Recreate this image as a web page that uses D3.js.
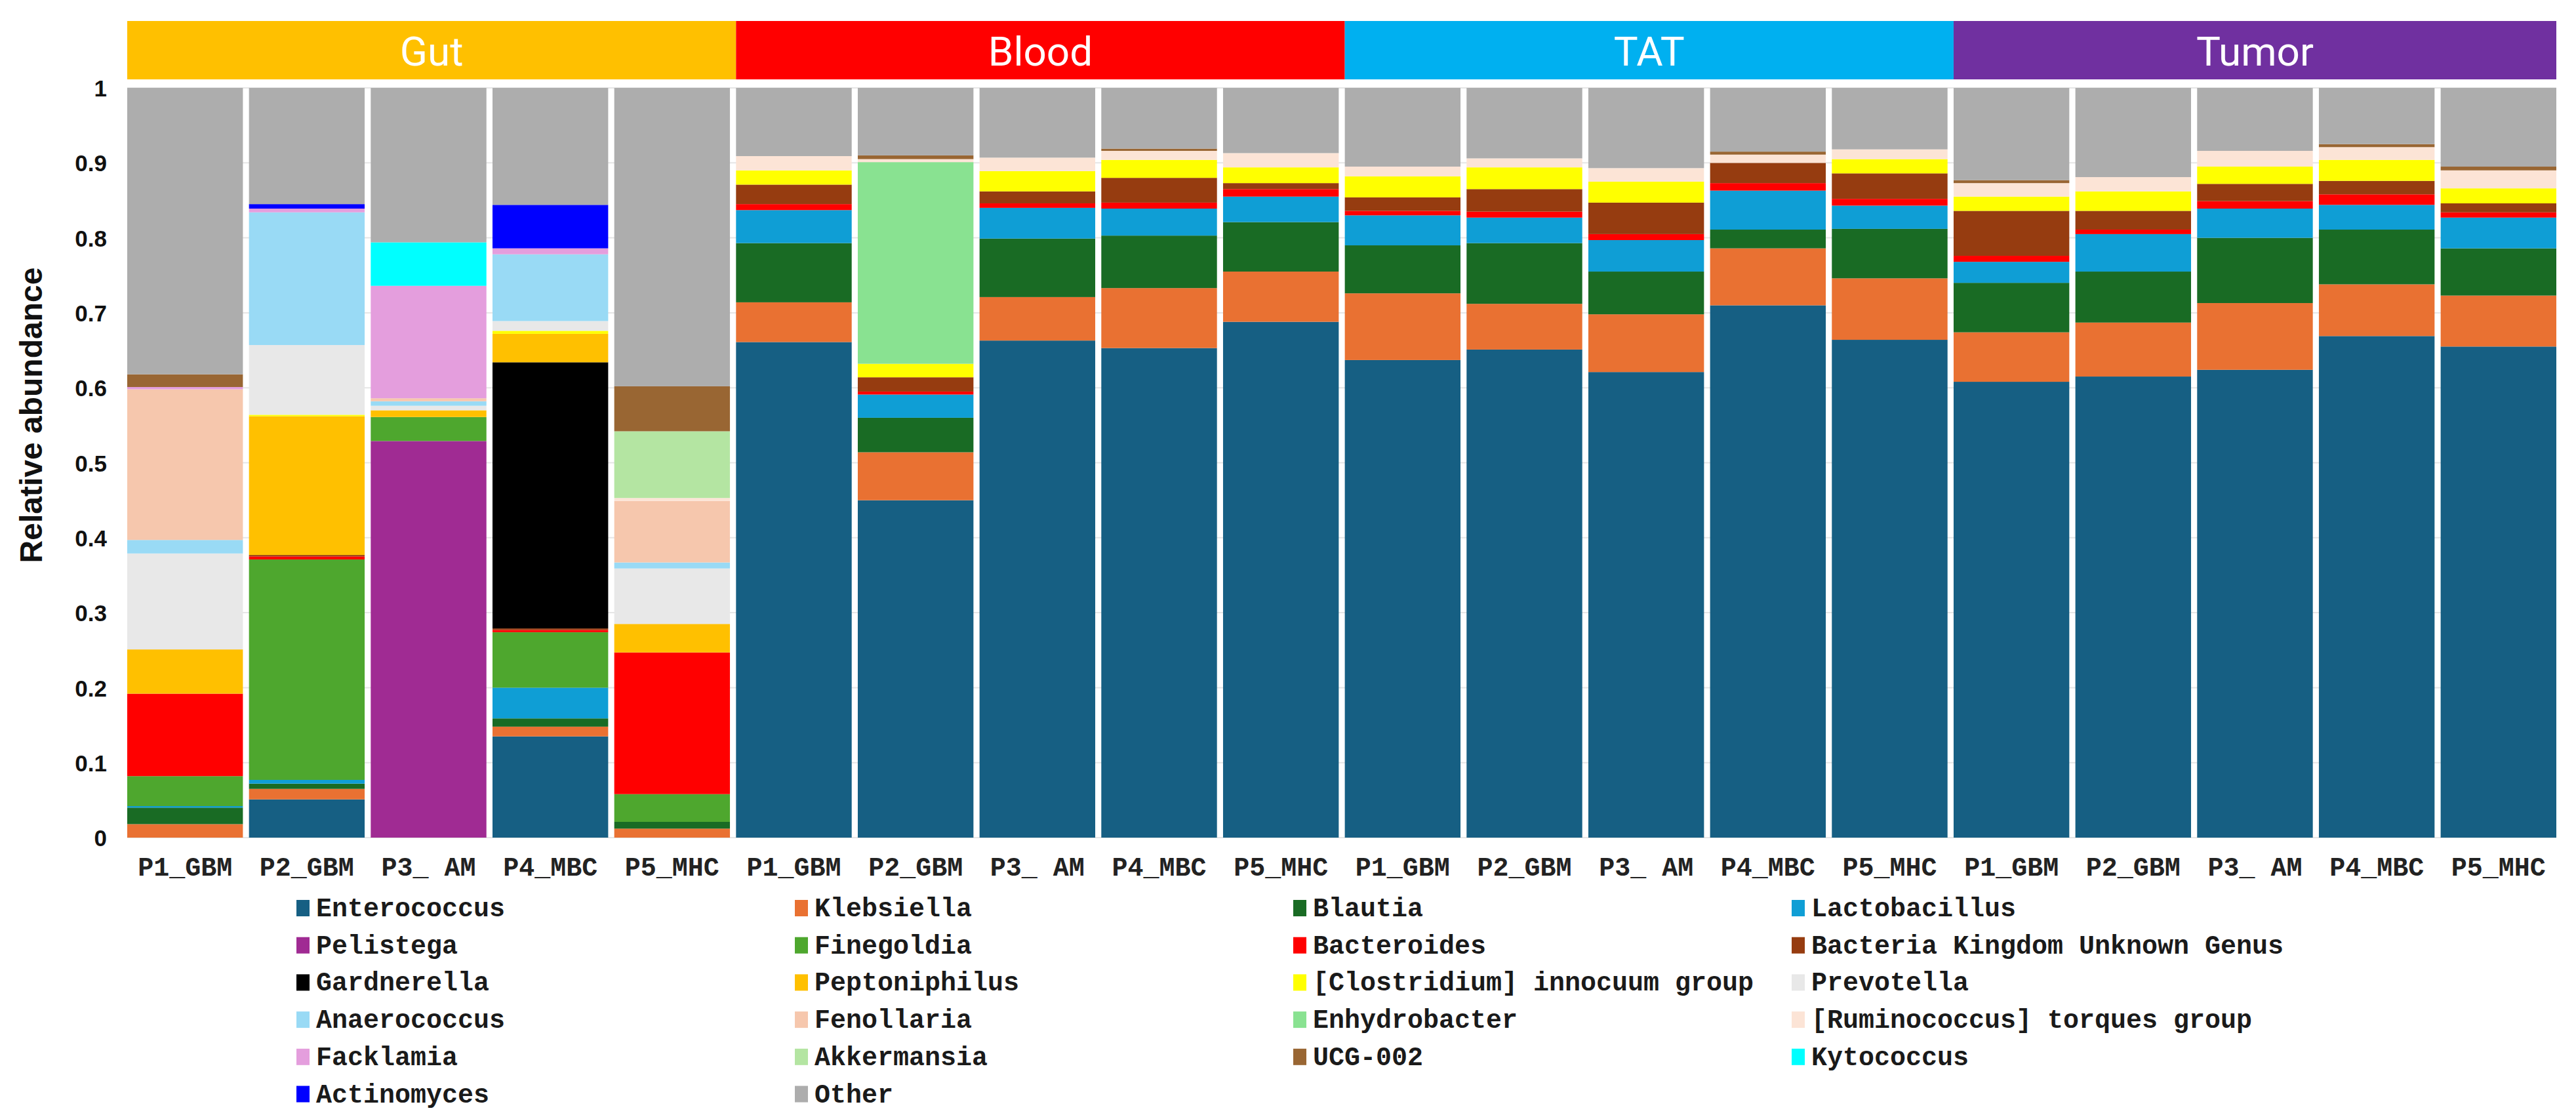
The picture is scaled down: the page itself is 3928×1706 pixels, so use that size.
<!DOCTYPE html>
<html>
<head>
<meta charset="utf-8">
<script src="https://cdn.jsdelivr.net/npm/d3@7"></script>
<style>
  body { margin: 0; background: #fff; }
  svg { display: block; }
</style>
</head>
<body>
<div id="chart"></div>
<script>
// samples along the x axis, grouped by tissue
const samples = ["P1_GBM", "P2_GBM", "P3_ AM", "P4_MBC", "P5_MHC"];
const groups = ["Gut", "Blood", "TAT", "Tumor"];
const groupColors = ["#FFC000", "#FF0000", "#00B0F0", "#7030A0"];

const genera = [
  "Enterococcus", "Klebsiella", "Blautia", "Lactobacillus",
  "Pelistega", "Finegoldia", "Bacteroides", "Bacteria Kingdom Unknown Genus",
  "Gardnerella", "Peptoniphilus", "[Clostridium] innocuum group", "Prevotella",
  "Anaerococcus", "Fenollaria", "Enhydrobacter", "[Ruminococcus] torques group",
  "Facklamia", "Akkermansia", "UCG-002", "Kytococcus",
  "Actinomyces", "Other"
];
const genusColors = [
  "#165F83", "#E97132", "#196B24", "#0F9ED5",
  "#A02B93", "#4EA72E", "#FF0000", "#963C10",
  "#000000", "#FFC000", "#FFFF00", "#E8E8E8",
  "#99DAF5", "#F6C7AD", "#89E291", "#FCE4D6",
  "#E49EDD", "#B4E5A2", "#996633", "#00FFFF",
  "#0000FF", "#ADADAD"
];

// relative abundance per genus, 20 columns: Gut P1..P5, Blood P1..P5, TAT P1..P5, Tumor P1..P5
const enterococcus  = [0, 0.051, 0, 0.135, 0,   0.661, 0.450, 0.663, 0.653, 0.688,   0.637, 0.651, 0.621, 0.710, 0.664,   0.608, 0.615, 0.624, 0.669, 0.655];
const klebsiella    = [0.018, 0.014, 0, 0.013, 0.012,   0.053, 0.064, 0.058, 0.080, 0.067,   0.089, 0.061, 0.077, 0.076, 0.082,   0.066, 0.072, 0.089, 0.069, 0.068];
const blautia       = [0.022, 0.007, 0, 0.011, 0.009,   0.079, 0.046, 0.078, 0.070, 0.066,   0.064, 0.081, 0.057, 0.025, 0.066,   0.066, 0.068, 0.087, 0.073, 0.063];
const lactobacillus = [0.002, 0.005, 0, 0.041, 0,   0.044, 0.031, 0.041, 0.036, 0.034,   0.040, 0.034, 0.042, 0.052, 0.031,   0.028, 0.050, 0.039, 0.033, 0.041];
const pelistega     = [0, 0, 0.529, 0, 0,   0, 0, 0, 0, 0,   0, 0, 0, 0, 0,   0, 0, 0, 0, 0];
const finegoldia    = [0.040, 0.294, 0.032, 0.074, 0.037,   0, 0, 0, 0, 0,   0, 0, 0, 0, 0,   0, 0, 0, 0, 0];
const bacteroides   = [0.110, 0.004, 0, 0.003, 0.189,   0.008, 0.004, 0.006, 0.008, 0.010,   0.006, 0.008, 0.008, 0.010, 0.009,   0.008, 0.006, 0.010, 0.014, 0.007];
const unknownGenus  = [0, 0.002, 0, 0.002, 0,   0.026, 0.019, 0.016, 0.033, 0.008,   0.018, 0.030, 0.042, 0.027, 0.034,   0.060, 0.025, 0.023, 0.018, 0.012];
const gardnerella   = [0, 0, 0, 0.355, 0,   0, 0, 0, 0, 0,   0, 0, 0, 0, 0,   0, 0, 0, 0, 0];
const peptoniphilus = [0.059, 0.185, 0.009, 0.038, 0.038,   0, 0, 0, 0, 0,   0, 0, 0, 0, 0,   0, 0, 0, 0, 0];
const clostridium   = [0, 0.002, 0, 0.004, 0,   0.019, 0.018, 0.027, 0.024, 0.021,   0.028, 0.029, 0.028, 0, 0.019,   0.019, 0.026, 0.023, 0.028, 0.020];
const prevotella    = [0.128, 0.093, 0.006, 0.013, 0.074,   0, 0, 0, 0, 0,   0, 0, 0, 0, 0,   0, 0, 0, 0, 0];
const anaerococcus  = [0.018, 0.177, 0.006, 0.089, 0.008,   0, 0, 0, 0, 0,   0, 0, 0, 0, 0,   0, 0, 0, 0, 0];
const fenollaria    = [0.201, 0, 0.004, 0, 0.082,   0, 0, 0, 0, 0,   0, 0, 0, 0, 0,   0, 0, 0, 0, 0];
const enhydrobacter = [0, 0, 0, 0, 0,   0, 0.269, 0, 0, 0,   0, 0, 0, 0, 0,   0, 0, 0, 0, 0];
const ruminococcus  = [0, 0, 0, 0, 0.004,   0.019, 0.004, 0.018, 0.012, 0.019,   0.013, 0.012, 0.018, 0.011, 0.013,   0.018, 0.019, 0.021, 0.017, 0.024];
const facklamia     = [0.003, 0.005, 0.150, 0.008, 0,   0, 0, 0, 0, 0,   0, 0, 0, 0, 0,   0, 0, 0, 0, 0];
const akkermansia   = [0, 0, 0, 0, 0.089,   0, 0, 0, 0, 0,   0, 0, 0, 0, 0,   0, 0, 0, 0, 0];
const ucg002        = [0.017, 0, 0, 0, 0.060,   0, 0.005, 0, 0.003, 0,   0, 0, 0, 0.004, 0,   0.004, 0, 0, 0.004, 0.005];
const kytococcus    = [0, 0, 0.058, 0, 0,   0, 0, 0, 0, 0,   0, 0, 0, 0, 0,   0, 0, 0, 0, 0];
const actinomyces   = [0, 0.006, 0, 0.058, 0,   0, 0, 0, 0, 0,   0, 0, 0, 0, 0,   0, 0, 0, 0, 0];
const other         = [0.382, 0.155, 0.206, 0.156, 0.398,   0.091, 0.090, 0.093, 0.081, 0.087,   0.105, 0.094, 0.107, 0.085, 0.082,   0.123, 0.119, 0.084, 0.075, 0.105];

const series = [
  enterococcus, klebsiella, blautia, lactobacillus,
  pelistega, finegoldia, bacteroides, unknownGenus,
  gardnerella, peptoniphilus, clostridium, prevotella,
  anaerococcus, fenollaria, enhydrobacter, ruminococcus,
  facklamia, akkermansia, ucg002, kytococcus,
  actinomyces, other
];

const yTicks = [0, 0.1, 0.2, 0.3, 0.4, 0.5, 0.6, 0.7, 0.8, 0.9, 1];

(function () {
    const width = 3928, height = 1706;
    const left = 194, right = 3898, top = 134, bottom = 1277;

    // one row per bar, keyed by genus, for d3.stack
    let rows = [];
    groups.forEach((g, gi) => {
        samples.forEach((s, si) => {
            let idx = gi * samples.length + si;
            let row = { id: g + "|" + s, group: g, sample: s };
            genera.forEach((name, k) => { row[name] = series[k][idx]; });
            rows.push(row);
        });
    });

    let svg = d3.select("#chart").append("svg")
        .attr("width", width)
        .attr("height", height)
        .style("background", "#fff");

    let x = d3.scaleBand()
        .domain(rows.map(d => d.id))
        .range([left, right])
        .paddingInner(0.05)
        .paddingOuter(0);
    let y = d3.scaleLinear().domain([0, 1]).range([bottom, top]);
    let color = d3.scaleOrdinal().domain(genera).range(genusColors);

    // faint grid
    svg.append("g")
        .selectAll("line")
        .data(yTicks)
        .enter()
        .append("line")
        .attr("x1", left)
        .attr("x2", right)
        .attr("y1", d => y(d))
        .attr("y2", d => y(d))
        .attr("stroke", "#e6e6e6")
        .attr("stroke-width", 2);

    // group header strips
    let stripTop = 32, stripH = 89;
    let header = svg.append("g").attr("class", "group-strip");
    groups.forEach((g, gi) => {
        let first = rows[gi * samples.length].id;
        let last = rows[(gi + 1) * samples.length - 1].id;
        let x0 = x(first);
        let x1 = gi < groups.length - 1 ? x(rows[(gi + 1) * samples.length].id) : x(last) + x.bandwidth();
        header.append("rect")
            .attr("x", x0)
            .attr("y", stripTop)
            .attr("width", x1 - x0)
            .attr("height", stripH)
            .attr("fill", groupColors[gi]);
        header.append("text")
            .attr("x", (x0 + x1) / 2)
            .attr("y", 100)
            .attr("text-anchor", "middle")
            .attr("fill", "#fff")
            .style("font-family", "Roboto, 'Liberation Sans', sans-serif")
            .style("font-size", "62px")
            .text(g);
    });

    // stacked bars
    let stacked = d3.stack().keys(genera)(rows);
    svg.append("g")
        .selectAll("g")
        .data(stacked)
        .enter()
        .append("g")
        .attr("fill", d => color(d.key))
        .selectAll("rect")
        .data(d => d)
        .enter()
        .append("rect")
        .attr("x", d => x(d.data.id))
        .attr("width", x.bandwidth())
        .attr("y", d => y(d[1]))
        .attr("height", d => Math.max(0, y(d[0]) - y(d[1])));

    // y axis
    let yAxis = svg.append("g")
        .attr("transform", "translate(" + (left - 31) + ",0)")
        .call(d3.axisLeft(y).tickValues(yTicks).tickSize(0).tickPadding(0)
            .tickFormat(d => String(+d.toFixed(1))));
    yAxis.select(".domain").remove();
    yAxis.selectAll("text")
        .attr("fill", "#111")
        .attr("dy", "0.36em")
        .style("font-family", "'Liberation Sans', Arial, sans-serif")
        .style("font-weight", "bold")
        .style("font-size", "35px");

    svg.append("text")
        .attr("transform", "translate(64,633) rotate(-90)")
        .attr("text-anchor", "middle")
        .attr("fill", "#111")
        .style("font-family", "'Liberation Sans', Arial, sans-serif")
        .style("font-weight", "bold")
        .style("font-size", "48px")
        .text("Relative abundance");

    // x labels
    svg.append("g")
        .selectAll("text")
        .data(rows)
        .enter()
        .append("text")
        .attr("x", d => x(d.id) + x.bandwidth() / 2)
        .attr("y", 1335)
        .attr("text-anchor", "middle")
        .attr("fill", "#222")
        .style("font-family", "'Liberation Mono', 'Courier New', monospace")
        .style("font-weight", "bold")
        .style("font-size", "40px")
        .style("white-space", "pre")
        .attr("xml:space", "preserve")
        .text(d => d.sample);

    // legend, 4 columns
    let legend = svg.append("g")
        .selectAll("g")
        .data(genera)
        .enter()
        .append("g")
        .attr("transform", (d, i) => "translate(" + (452 + (i % 4) * 760) + "," + (1397 + Math.floor(i / 4) * 56.7) + ")");
    legend.append("rect")
        .attr("x", 0)
        .attr("y", -25)
        .attr("width", 20)
        .attr("height", 25)
        .attr("fill", d => color(d));
    legend.append("text")
        .attr("x", 30)
        .attr("y", 0)
        .attr("fill", "#1a1a1a")
        .style("font-family", "'Liberation Mono', 'Courier New', monospace")
        .style("font-weight", "bold")
        .style("font-size", "40px")
        .text(d => d);
})();
</script>
</body>
</html>
